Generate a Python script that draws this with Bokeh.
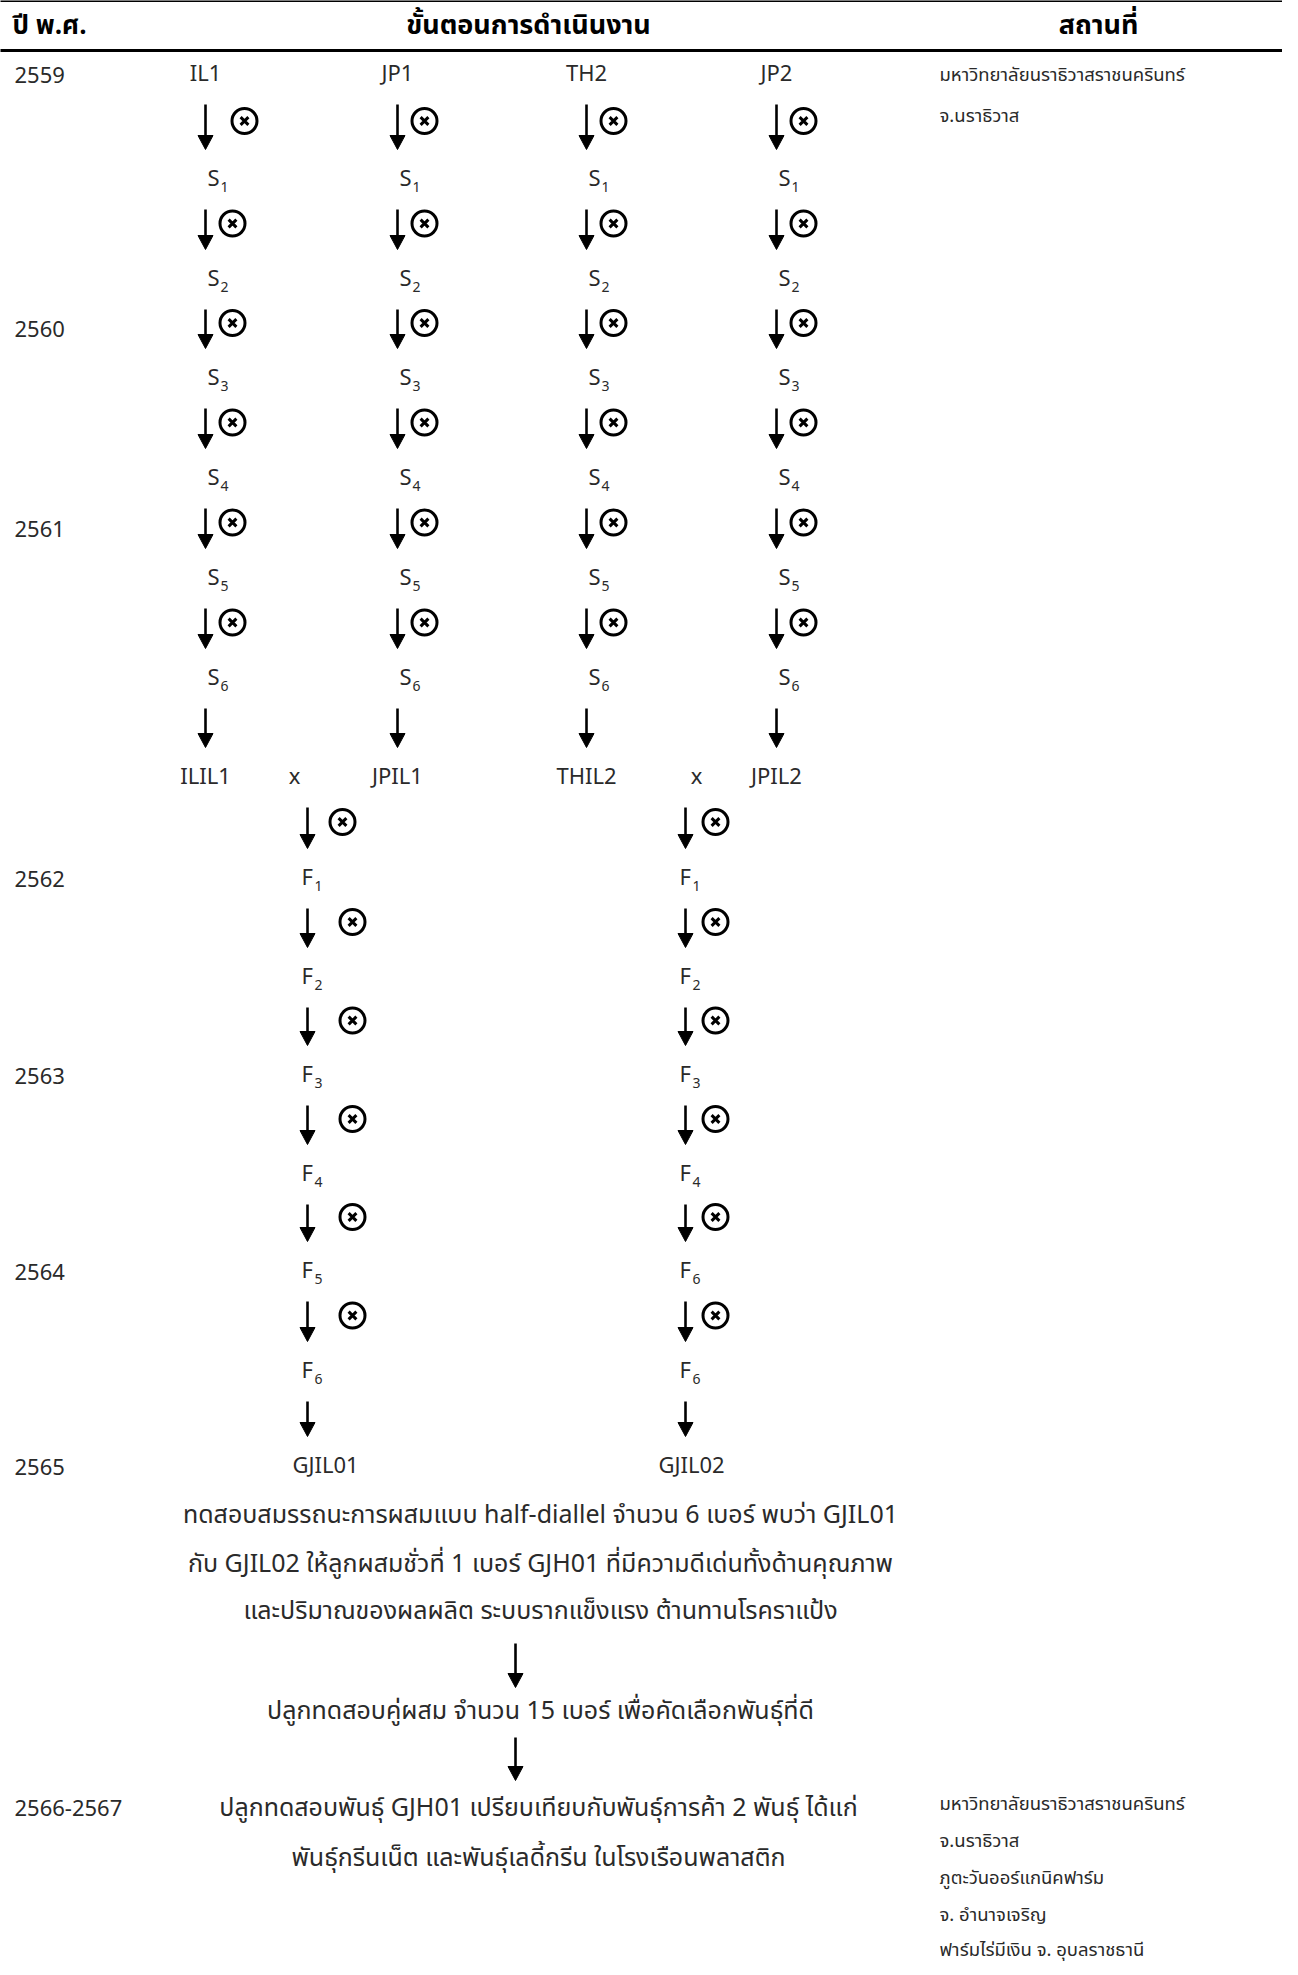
from bokeh.plotting import figure
from bokeh.models import Range1d
from bokeh.embed import file_html
from bokeh.resources import INLINE
from bokeh.core.properties import value

# ---------------- data ----------------
headers = ["ปี พ.ศ.", "ขั้นตอนการดำเนินงาน", "สถานที่"]
years = ["2559", "2560", "2561", "2562", "2563", "2564", "2565", "2566-2567"]
parents = ["IL1", "JP1", "TH2", "JP2"]
selfing_gens = [1, 2, 3, 4, 5, 6]
inbreds = ["ILIL1", "JPIL1", "THIL2", "JPIL2"]
f_gens_left = [1, 2, 3, 4, 5, 6]
f_gens_right = [1, 2, 3, 4, 6, 6]
new_lines = ["GJIL01", "GJIL02"]
diallel_text = [
    "ทดสอบสมรรถนะการผสมแบบ half-diallel จำนวน 6 เบอร์ พบว่า GJIL01",
    "กับ GJIL02 ให้ลูกผสมชั่วที่ 1 เบอร์ GJH01 ที่มีความดีเด่นทั้งด้านคุณภาพ",
    "และปริมาณของผลผลิต ระบบรากแข็งแรง ต้านทานโรคราแป้ง",
]
selection_text = ["ปลูกทดสอบคู่ผสม จำนวน 15 เบอร์ เพื่อคัดเลือกพันธุ์ที่ดี"]
trial_text = [
    "ปลูกทดสอบพันธุ์ GJH01 เปรียบเทียบกับพันธุ์การค้า 2 พันธุ์ ได้แก่",
    "พันธุ์กรีนเน็ต และพันธุ์เลดี้กรีน ในโรงเรือนพลาสติก",
]
sites_first = ["มหาวิทยาลัยนราธิวาสราชนครินทร์", "จ.นราธิวาส"]
sites_last = ["มหาวิทยาลัยนราธิวาสราชนครินทร์", "จ.นราธิวาส",
              "ภูตะวันออร์แกนิคฟาร์ม", "จ. อำนาจเจริญ",
              "ฟาร์มไร่มีเงิน จ. อุบลราชธานี"]

# ---------------- layout (page pixels) ----------------
FONT = "Noto Sans Thai, Noto Sans, sans-serif"
TXT = "#2a2a2a"
LAB = "22px"      # labels / years
BODY = "25px"     # Thai paragraph text
SITE = "18.5px"   # location column
col_x = [213, 405, 594, 784]
row_y = [82, 187, 287, 386, 486, 586, 686, 785, 886, 985, 1083, 1182, 1279, 1379, 1474]
left_fx, right_fx = 315, 693

W, H = 1282, 1966
p = figure(width=W, height=H, x_range=Range1d(8, 8 + W), y_range=Range1d(8 + H, 8),
           output_backend="svg", toolbar_location=None, min_border=0,
           x_axis_location=None, y_axis_location=None)
p.grid.visible = False
p.outline_line_color = None
p.background_fill_color = "white"
p.border_fill_color = "white"


def txt(xs, ys, texts, size=LAB, align="left", style="normal", color=TXT):
    p.text(x=xs, y=ys, text=texts, text_font=value(FONT), text_font_size=size,
           text_align=align, text_baseline="middle", text_font_style=style,
           text_color=color)


# header rules
p.segment(x0=[0, 0], y0=[8, 58], x1=[1300, 1300], y1=[8, 58], line_width=3, line_color="black")
txt([20], [33], [headers[0]], size="26px", style="bold", color="black")
txt([536], [33], [headers[1]], size="27px", align="center", style="bold", color="black")
txt([1106], [33], [headers[2]], size="27px", align="center", style="bold", color="black")

# years
year_y = [row_y[0], (row_y[2] + row_y[3]) / 2, (row_y[4] + row_y[5]) / 2,
          row_y[8], row_y[10], row_y[12], row_y[14], 1815]
txt([22] * len(years), year_y, years)

# sites
txt([947] * len(sites_first), [82, 123], sites_first, size=SITE)
txt([947] * len(sites_last), [1811, 1848, 1885, 1922, 1957], sites_last, size=SITE)

# parents row
txt(col_x, [row_y[0]] * 4, parents, align="center")

# selfing generations S1..S6
sx, sy, subx, suby, subt = [], [], [], [], []
for c in col_x:
    for i, g in enumerate(selfing_gens):
        sx.append(c + 2); sy.append(row_y[1 + i])
        subx.append(c + 15); suby.append(row_y[1 + i] + 7); subt.append(str(g))
txt(sx, sy, ["S"] * len(sx))
txt(subx, suby, subt, size="14px")

# inbred row with crosses
txt(col_x, [row_y[7]] * 4, inbreds, align="center")
txt([302, 704], [row_y[7]] * 2, ["x", "x"], align="center")

# F generations
fx, fy, fsx, fsy, fst = [], [], [], [], []
for i, g in enumerate(f_gens_left):
    fx.append(left_fx - 6); fy.append(row_y[8 + i])
    fsx.append(left_fx + 7); fsy.append(row_y[8 + i] + 7); fst.append(str(g))
for i, g in enumerate(f_gens_right):
    fx.append(right_fx - 6); fy.append(row_y[8 + i])
    fsx.append(right_fx + 7); fsy.append(row_y[8 + i] + 7); fst.append(str(g))
txt(fx, fy, ["F"] * len(fx))
txt(fsx, fsy, fst, size="14px")

# new lines
txt([333, 699], [row_y[14]] * 2, new_lines, align="center")

# text blocks
txt([548] * 3, [1522, 1571, 1618], diallel_text, size=BODY, align="center")
txt([548], [1718], selection_text, size=BODY, align="center")
txt([546] * 2, [1815, 1865], trial_text, size=BODY, align="center")

# ---------------- arrows & selfing marks ----------------
ax, ay0, ay1 = [], [], []
cx, cy = [], []


def arrow(x, ya, yb):
    ax.append(x); ay0.append(ya + 30); ay1.append(yb - 30)


for j, c in enumerate(col_x):
    for i in range(7):
        arrow(c, row_y[i], row_y[i + 1])
        if i < 6:
            cx.append(c + (39 if (j == 0 and i == 0) else 27))
            cy.append((row_y[i] + row_y[i + 1]) / 2 - 6)
for i in range(7, 14):
    arrow(left_fx, row_y[i], row_y[i + 1])
    arrow(right_fx, row_y[i], row_y[i + 1])
    if i < 13:
        cx.append(left_fx + (35 if i == 7 else 45))
        cy.append((row_y[i] + row_y[i + 1]) / 2 - 6)
        cx.append(right_fx + 30)
        cy.append((row_y[i] + row_y[i + 1]) / 2 - 6)
ax += [523, 523]; ay0 += [1651, 1745]; ay1 += [1695, 1788]

p.segment(x0=ax, y0=ay0, x1=ax, y1=[y - 10 for y in ay1], line_width=2.6, line_color="black")
p.patches(xs=[[x - 7.5, x + 7.5, x] for x in ax],
          ys=[[y - 14, y - 14, y] for y in ay1],
          fill_color="black", line_color="black", line_width=1)
p.scatter(x=cx, y=cy, marker="circle", size=25, fill_color=None, line_color="black", line_width=3)
p.scatter(x=cx, y=cy, marker="x", size=11, line_color="black", line_width=3)

open("out.html", "w").write(file_html(p, INLINE))
